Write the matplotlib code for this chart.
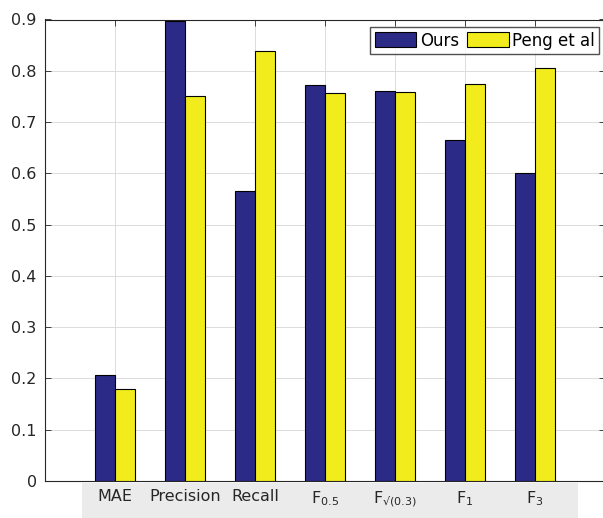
import matplotlib
matplotlib.use("Agg")
import matplotlib.pyplot as plt
import numpy as np
from matplotlib.patches import Rectangle

# metric names and scores
metrics = ["MAE", "Precision", "Recall", r"F$_{\mathregular{0.5}}$",
           r"F$_{\mathregular{√(0.3)}}$", r"F$_{\mathregular{1}}$", r"F$_{\mathregular{3}}$"]
ours = [0.207, 0.898, 0.566, 0.773, 0.760, 0.665, 0.600]
peng = [0.179, 0.751, 0.838, 0.756, 0.759, 0.775, 0.805]
series_names = ["Ours", "Peng et al"]

plt.rcParams["font.family"] = "DejaVu Sans"

W, H = 603, 518
fig = plt.figure(figsize=(W / 100, H / 100), dpi=100)
ax = fig.add_axes([45 / W, 1 - 481 / H, 560 / W, (481 - 19.5) / H])

# grey strip behind the tick labels
fig.patches.append(Rectangle((82 / W, 0), (578 - 82) / W, 1 - 483 / H,
                             transform=fig.transFigure, facecolor="#ebebeb",
                             edgecolor="none", zorder=-5))
ax.set_zorder(1)
ax.patch.set_alpha(0)

x = np.arange(1, len(metrics) + 1)
w = 0.286
ax.bar(x - w / 2, ours, w, color="#2c2a87", edgecolor="black", linewidth=0.8,
       label=series_names[0], zorder=3)
ax.bar(x + w / 2, peng, w, color="#f2ec1d", edgecolor="black", linewidth=0.8,
       label=series_names[1], zorder=3)

ax.set_xlim(0, 8)
ax.set_ylim(0, 0.9)
ax.set_xticks(x)
ax.set_xticklabels(metrics, fontsize=11.5, color="#262626")
ax.set_yticks(np.arange(0, 0.91, 0.1))
ax.set_yticklabels(["0"] + [f"{v:.1f}" for v in np.arange(0.1, 0.91, 0.1)],
                   fontsize=11.5, color="#262626")
ax.tick_params(direction="in", top=True, right=True, length=4, width=0.6,
               color="#262626", pad=6)
ax.grid(True, color="#dcdcdc", linewidth=0.7, zorder=0)
ax.set_axisbelow(True)
for s in ax.spines.values():
    s.set_linewidth(0.8)
    s.set_color("#262626")

ax.legend(loc="upper right", bbox_to_anchor=(554 / 560, 1 - 8 / 461.5),
          ncol=2, fontsize=12, handlelength=2.5, handleheight=1.0,
          columnspacing=0.5, handletextpad=0.2, borderpad=0.25,
          borderaxespad=0, frameon=True, fancybox=False, edgecolor="#262626")

fig.savefig("out.png", dpi=100)
